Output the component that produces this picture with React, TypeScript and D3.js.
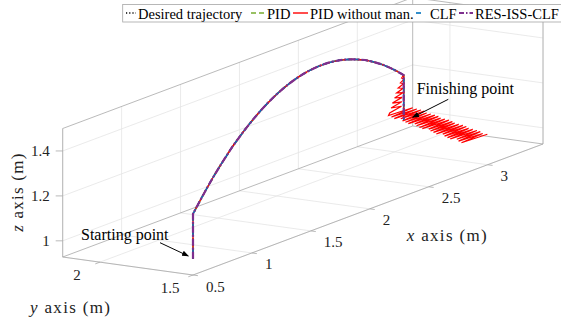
import * as d3 from "d3";

// axis limits (tight) and ticks
const X_LIM = [0.5, 3.47];
const Y_LIM = [1.5, 2.2];
const Z_LIM = [0.928, 1.5];
const xTicks = [0.5, 1, 1.5, 2, 2.5, 3];
const yTicks = [1.5, 2];
const zTicks = [1, 1.2, 1.4];

// desired trajectory: take-off (0-2), arc (2-16), landing (16-18)
const desiredX = [0.5, 0.5, 0.5, 0.639, 0.778, 0.917, 1.056, 1.334, 1.612, 1.89, 2.168, 2.446, 2.724, 2.863, 3.002, 3.141, 3.28, 3.28, 3.28];
const desiredY = [1.5, 1.5, 1.5, 1.531, 1.563, 1.594, 1.626, 1.688, 1.751, 1.814, 1.877, 1.94, 2.002, 2.034, 2.065, 2.097, 2.128, 2.128, 2.128];
const desiredZ = [1.0, 1.1, 1.2, 1.257, 1.308, 1.353, 1.392, 1.452, 1.488, 1.5, 1.488, 1.452, 1.392, 1.353, 1.308, 1.257, 1.2, 1.1, 1.0];

// PID without manipulator: shaky landing, then drifting oscillation
const redDescentX = [3.28, 3.265, 3.285, 3.255, 3.285, 3.24, 3.285, 3.23, 3.285, 3.215, 3.28, 3.2, 3.28, 3.19, 3.28, 3.18];
const redDescentY = [2.128, 2.13, 2.13, 2.13, 2.132, 2.132, 2.134, 2.134, 2.135, 2.136, 2.137, 2.138, 2.138, 2.139, 2.14, 2.14];
const redDescentZ = [1.2, 1.19, 1.18, 1.17, 1.16, 1.15, 1.14, 1.13, 1.12, 1.11, 1.1, 1.09, 1.08, 1.07, 1.06, 1.05];

const redBandX = [3.17, 3.362, 3.168, 3.37, 3.167, 3.378, 3.195, 3.381, 3.183, 3.375, 3.181,
  3.383, 3.18, 3.391, 3.208, 3.394, 3.196, 3.388, 3.194, 3.396, 3.193, 3.404, 3.221,
  3.407, 3.209, 3.401, 3.207, 3.409, 3.206, 3.417, 3.234, 3.421, 3.222, 3.414, 3.22,
  3.422, 3.219, 3.43, 3.247, 3.434, 3.235, 3.427, 3.233, 3.44];
const redBandY = [2.14, 2.132, 2.123, 2.115, 2.107, 2.098, 2.09, 2.081, 2.073, 2.065, 2.056,
  2.048, 2.04, 2.031, 2.023, 2.014, 2.006, 1.998, 1.989, 1.981, 1.973, 1.964, 1.956,
  1.947, 1.939, 1.931, 1.922, 1.914, 1.906, 1.897, 1.889, 1.881, 1.872, 1.864, 1.855,
  1.847, 1.839, 1.83, 1.822, 1.814, 1.805, 1.797, 1.788, 1.78];
const redBandZ = [1.04, 1.038, 1.036, 1.033, 1.031, 1.029, 1.027, 1.025, 1.022, 1.02, 1.018,
  1.016, 1.014, 1.011, 1.009, 1.007, 1.005, 1.002, 1.0, 0.998, 0.996, 0.994, 0.991,
  0.989, 0.987, 0.985, 0.983, 0.98, 0.978, 0.976, 0.974, 0.972, 0.969, 0.967, 0.965,
  0.963, 0.961, 0.958, 0.956, 0.954, 0.952, 0.949, 0.947, 0.945];

const legendNames = ["Desired trajectory", "PID", "PID without man.", "CLF", "RES-ISS-CLF"];
const legendColors = ["#000000", "#77AC30", "#FF0000", "#0072BD", "#7E2F8E"];

// box frame on screen
const ORIGIN = [193, 275];
const EX = [350, -131];
const EY = [-130.3, -18];
const EZ = [0, -128.5];

const fx = d3.scaleLinear().domain(X_LIM).range([0, 1]);
const fy = d3.scaleLinear().domain(Y_LIM).range([0, 1]);
const fz = d3.scaleLinear().domain(Z_LIM).range([0, 1]);

function proj(x: number, y: number, z: number): [number, number] {
  const a = fx(x), b = fy(y), c = fz(z);
  return [
    ORIGIN[0] + a * EX[0] + b * EY[0] + c * EZ[0],
    ORIGIN[1] + a * EX[1] + b * EY[1] + c * EZ[1],
  ];
}

const pts = (xs: number[], ys: number[], zs: number[]) => xs.map((x, i) => proj(x, ys[i], zs[i]));

const smooth = d3.line().curve(d3.curveCatmullRom.alpha(0.5));
const straight = d3.line();

const FONT = '"Liberation Serif", "Times New Roman", serif';
const GRID = "#e4e4e4";
const EDGE = "#a8a8a8";

export default function App() {
  const [x0, x1] = X_LIM;
  const [y0, y1] = Y_LIM;
  const [z0, z1] = Z_LIM;

  const seg = (p: [number, number, number], q: [number, number, number]) =>
    straight([proj(...p), proj(...q)]) as string;

  const grid: string[] = [];
  xTicks.forEach((x) => {
    grid.push(seg([x, y1, z0], [x, y1, z1]));
    grid.push(seg([x, y0, z0], [x, y1, z0]));
  });
  zTicks.forEach((z) => {
    grid.push(seg([x0, y1, z], [x1, y1, z]));
    grid.push(seg([x1, y0, z], [x1, y1, z]));
  });
  yTicks.forEach((y) => {
    grid.push(seg([x1, y, z0], [x1, y, z1]));
    grid.push(seg([x0, y, z0], [x1, y, z0]));
  });

  const edges = [
    seg([x0, y1, z0], [x1, y1, z0]),
    seg([x0, y1, z1], [x1, y1, z1]),
    seg([x0, y1, z0], [x0, y1, z1]),
    seg([x1, y1, z0], [x1, y1, z1]),
    seg([x1, y0, z0], [x1, y1, z0]),
    seg([x1, y0, z1], [x1, y1, z1]),
    seg([x1, y0, z0], [x1, y0, z1]),
    seg([x0, y0, z0], [x1, y0, z0]),
    seg([x0, y0, z0], [x0, y1, z0]),
  ];

  // straight climb, smooth arc, straight descent
  const all = pts(desiredX, desiredY, desiredZ);
  const desired =
    (straight(all.slice(0, 3)) as string) +
    (smooth(all.slice(2, 17)) as string).replace(/^M/, "L") +
    (straight(all.slice(16)) as string).replace(/^M/, "L");
  const redTail = straight([
    ...pts(redDescentX, redDescentY, redDescentZ),
    ...pts(redBandX, redBandY, redBandZ),
  ]) as string;

  const eyLen = Math.hypot(EY[0], EY[1]);
  const exLen = Math.hypot(EX[0], EX[1]);

  const legendIcon = [
    { x: 126, w: 10, dash: "1.2,2", sw: 1.5 },
    { x: 251, w: 14, dash: "5,3", sw: 1.6 },
    { x: 293, w: 15, dash: "", sw: 1.4 },
    { x: 416, w: 12, dash: "5,9", sw: 1.6 },
    { x: 459, w: 14, dash: "5,2,1.5,2", sw: 2 },
  ];
  const legendTextX = [138, 267, 310, 430, 475];

  return (
    <svg width={561} height={329} style={{ position: "absolute", left: 0, top: 0, background: "#fff", fontFamily: FONT }}>
      <g fill="none" strokeWidth={0.8}>
        {grid.map((d, i) => (
          <path key={"g" + i} d={d} stroke={GRID} />
        ))}
        {edges.map((d, i) => (
          <path key={"e" + i} d={d} stroke={EDGE} />
        ))}
      </g>

      {/* ticks */}
      <g stroke={EDGE} strokeWidth={0.8}>
        {zTicks.map((z) => {
          const [px, py] = proj(x0, y1, z);
          return <line key={"zt" + z} x1={px - 7} y1={py} x2={px} y2={py} />;
        })}
        {xTicks.map((x) => {
          const [px, py] = proj(x, y0, z0);
          return <line key={"xt" + x} x1={px} y1={py} x2={px - (EY[0] / eyLen) * 5} y2={py - (EY[1] / eyLen) * 5} />;
        })}
        {yTicks.map((y) => {
          const [px, py] = proj(x0, y, z0);
          return <line key={"yt" + y} x1={px} y1={py} x2={px - (EX[0] / exLen) * 5} y2={py - (EX[1] / exLen) * 5} />;
        })}
      </g>

      <g fontSize={15} fill="#222">
        {zTicks.map((z) => {
          const [px, py] = proj(x0, y1, z);
          return (
            <text key={"zl" + z} x={px - 13} y={py + 5} textAnchor="end">
              {z}
            </text>
          );
        })}
        {xTicks.map((x) => {
          const [px, py] = proj(x, y0, z0);
          return (
            <text key={"xl" + x} x={px + 13} y={py + 16.5}>
              {x}
            </text>
          );
        })}
        {yTicks.map((y) => {
          const [px, py] = proj(x0, y, z0);
          return (
            <text key={"yl" + y} x={px - 23} y={py + 17.8} textAnchor="middle">
              {y}
            </text>
          );
        })}
      </g>

      {/* axis labels */}
      <g fontSize={17} fill="#222">
        <text x={406.7} y={240.7} textLength={80} lengthAdjust="spacing">
          <tspan fontStyle="italic">x</tspan>
          {" axis (m)"}
        </text>
        <text x={30} y={313} textLength={80} lengthAdjust="spacing">
          <tspan fontStyle="italic">y</tspan>
          {" axis (m)"}
        </text>
        <text transform="translate(22.7,231.7) rotate(-90)" textLength={78} lengthAdjust="spacing">
          <tspan fontStyle="italic">z</tspan>
          {" axis (m)"}
        </text>
      </g>

      {/* trajectories */}
      <g fill="none">
        <path d={desired} stroke={legendColors[0]} strokeWidth={1.5} strokeDasharray="1.2,2" />
        <path d={desired} stroke={legendColors[1]} strokeWidth={1.6} strokeDasharray="5,3" />
        <path d={desired} stroke={legendColors[2]} strokeWidth={1.3} />
        <path d={redTail} stroke={legendColors[2]} strokeWidth={1.2} strokeLinejoin="miter" />
        <path d={desired} stroke={legendColors[3]} strokeWidth={1.6} strokeDasharray="5,3" strokeDashoffset={2} />
        <path d={desired} stroke={legendColors[4]} strokeWidth={2.2} strokeDasharray="7,2,2,2" />
      </g>

      {/* annotations */}
      <defs>
        <marker id="ah" viewBox="0 0 10 10" refX={9} refY={5} markerWidth={7} markerHeight={7} orient="auto">
          <path d="M0,1 L10,5 L0,9 z" fill="#000" />
        </marker>
      </defs>
      <g fontSize={16} fill="#000">
        <text x={81} y={240}>Starting point</text>
        <text x={416.7} y={94.3}>Finishing point</text>
      </g>
      <line x1={160} y1={242.7} x2={188.3} y2={256} stroke="#000" strokeWidth={1} markerEnd="url(#ah)" />
      <line x1={448.3} y1={99.3} x2={412.7} y2={117.3} stroke="#000" strokeWidth={1} markerEnd="url(#ah)" />

      {/* legend */}
      <rect x={122.7} y={4.5} width={445} height={17.5} fill="#fff" stroke="#a6a6a6" strokeWidth={0.8} />
      {legendIcon.map((ic, i) => (
        <line
          key={"li" + i}
          x1={ic.x}
          x2={ic.x + ic.w}
          y1={13}
          y2={13}
          stroke={legendColors[i]}
          strokeWidth={ic.sw}
          strokeDasharray={ic.dash || undefined}
        />
      ))}
      <g fontSize={14.5} fill="#000">
        {legendNames.map((n, i) => (
          <text key={n} x={legendTextX[i]} y={18.5}>
            {n}
          </text>
        ))}
      </g>
    </svg>
  );
}
